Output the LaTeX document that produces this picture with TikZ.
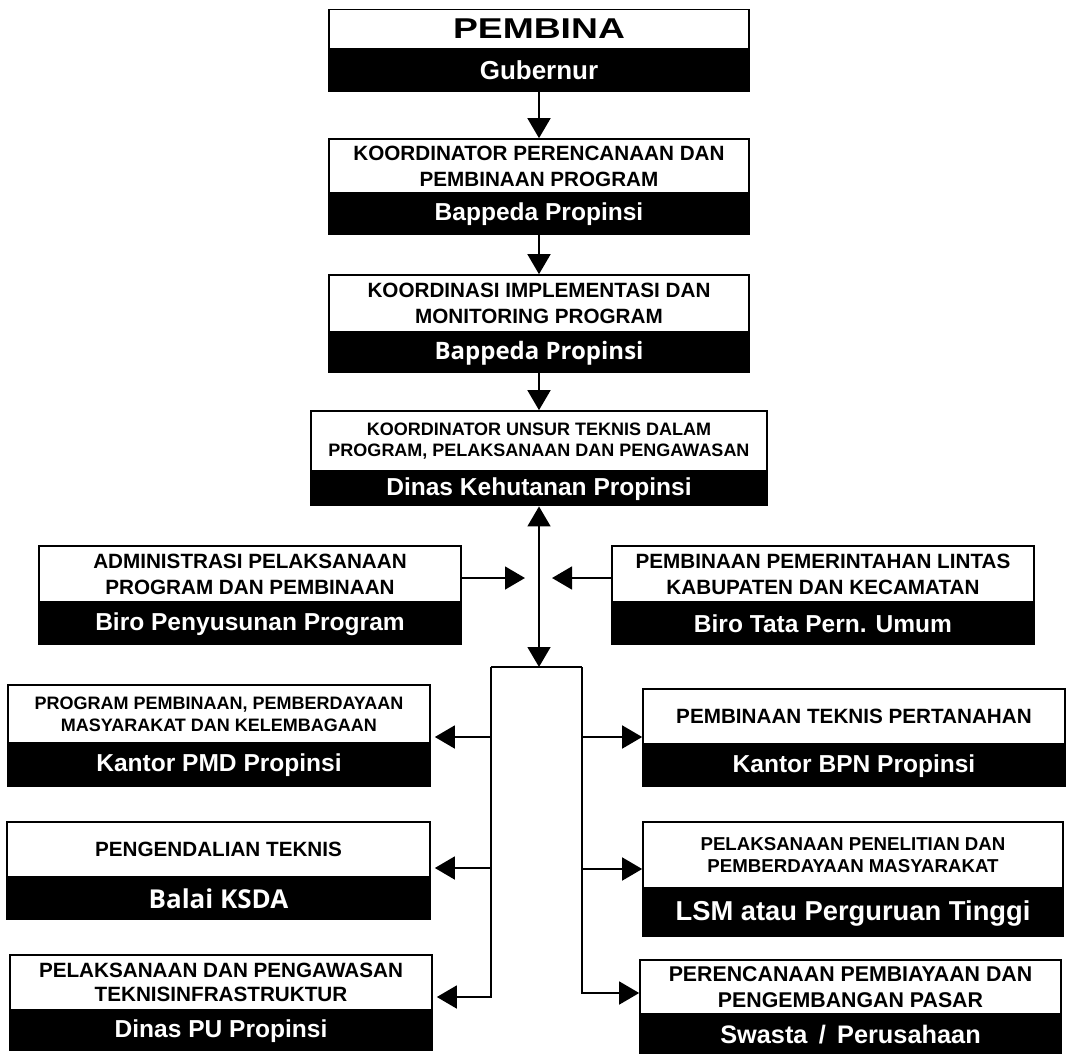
\documentclass[tikz,border=0pt]{standalone}
\usepackage{fontspec}
\setmainfont{Liberation Sans}
\newfontfamily\widefont[FakeStretch=1.3]{Liberation Sans}
\newfontfamily\opensans{Open Sans}
\usetikzlibrary{positioning,arrows.meta}

\begin{document}
\begin{tikzpicture}[x=0.75pt,y=-0.75pt,
    >={Triangle[length=15pt,width=17pt]},
    hdr/.style={draw,line width=1.2pt,fill=white,align=center,inner sep=0pt,
      font=\bfseries\fontsize{15.5}{19.5}\selectfont},
    sub/.style={draw,line width=1.2pt,fill=black,text=white,inner sep=0pt,
      font=\bfseries\fontsize{18.4}{22}\selectfont},
    link/.style={line width=2pt}]
    \useasboundingbox (0,0) rectangle (1067,1053);
    % Main column
    \node[hdr,minimum width=315pt,minimum height=29.25pt,
      font=\widefont\bfseries\fontsize{21.5}{24}\selectfont] (pembina) at (539,29) {PEMBINA};
    \node[sub,minimum width=315pt,minimum height=30.75pt,below=0pt of pembina,
      font=\bfseries\fontsize{19.5}{22}\selectfont] (gubernur) {Gubernur};
    \node[hdr,minimum width=315pt,minimum height=40.5pt] (perencanaan) at (539,166)
      {KOORDINATOR PERENCANAAN DAN\\PEMBINAAN PROGRAM};
    \node[sub,minimum width=315pt,minimum height=30pt,below=0pt of perencanaan] (bappedaA) {Bappeda Propinsi};
    \node[hdr,minimum width=315pt,minimum height=42.75pt] (implementasi) at (539,303.5)
      {KOORDINASI IMPLEMENTASI DAN\\MONITORING PROGRAM};
    \node[sub,minimum width=315pt,minimum height=29.25pt,below=0pt of implementasi,
      font=\opensans\bfseries\fontsize{18}{22}\selectfont] (bappedaB) {Bappeda Propinsi};
    \node[hdr,minimum width=342pt,minimum height=45pt,
      font=\bfseries\fontsize{13.5}{15.75}\selectfont] (teknis) at (539,441)
      {KOORDINATOR UNSUR TEKNIS DALAM\\PROGRAM, PELAKSANAAN DAN PENGAWASAN};
    \node[sub,minimum width=342pt,minimum height=24.75pt,below=0pt of teknis] (dishut) {Dinas Kehutanan Propinsi};
    % Side units
    \node[hdr,minimum width=316.5pt,minimum height=42pt] (admin) at (250,574)
      {ADMINISTRASI PELAKSANAAN\\PROGRAM DAN PEMBINAAN};
    \node[sub,minimum width=316.5pt,minimum height=30.75pt,below=0pt of admin] (biroprog) {Biro Penyusunan Program};
    \node[hdr,minimum width=316.5pt,minimum height=42pt] (lintas) at (823,574)
      {PEMBINAAN PEMERINTAHAN LINTAS\\KABUPATEN DAN KECAMATAN};
    \node[sub,minimum width=316.5pt,minimum height=30.75pt,below=0pt of lintas] (birotata) {Biro Tata Pern. Umum};
    % Left branch
    \node[hdr,minimum width=316.5pt,minimum height=43.5pt,
      font=\bfseries\fontsize{13.5}{16.5}\selectfont] (pmdtop) at (219,714)
      {PROGRAM PEMBINAAN, PEMBERDAYAAN\\MASYARAKAT DAN KELEMBAGAAN};
    \node[sub,minimum width=316.5pt,minimum height=31.5pt,below=0pt of pmdtop] (pmd) {Kantor PMD Propinsi};
    \node[hdr,minimum width=317.25pt,minimum height=41.25pt] (ksdatop) at (218.5,849.5)
      {PENGENDALIAN TEKNIS};
    \node[sub,minimum width=317.25pt,minimum height=30.75pt,below=0pt of ksdatop,
      font=\opensans\bfseries\fontsize{19.5}{22}\selectfont] (ksda) {Balai KSDA};
    \node[hdr,minimum width=316.5pt,minimum height=41.25pt,
      font=\bfseries\fontsize{15.5}{18}\selectfont] (putop) at (221,982.5)
      {PELAKSANAAN DAN PENGAWASAN\\TEKNISINFRASTRUKTUR};
    \node[sub,minimum width=316.5pt,minimum height=29.25pt,below=0pt of putop] (pu) {Dinas PU Propinsi};
    % Right branch
    \node[hdr,minimum width=316.5pt,minimum height=41.25pt] (bpntop) at (854,716.5)
      {PEMBINAAN TEKNIS PERTANAHAN};
    \node[sub,minimum width=316.5pt,minimum height=30.75pt,below=0pt of bpntop] (bpn) {Kantor BPN Propinsi};
    \node[hdr,minimum width=315pt,minimum height=49.5pt,
      font=\bfseries\fontsize{14}{16.5}\selectfont] (lsmtop) at (853,855)
      {PELAKSANAAN PENELITIAN DAN\\PEMBERDAYAAN MASYARAKAT};
    \node[sub,minimum width=315pt,minimum height=35.25pt,below=0pt of lsmtop,
      font=\bfseries\fontsize{20.5}{24}\selectfont] (lsm) {LSM atau Perguruan Tinggi};
    \node[hdr,minimum width=315.75pt,minimum height=40.5pt,
      font=\bfseries\fontsize{16}{19.5}\selectfont] (swastatop) at (850.5,987)
      {PERENCANAAN PEMBIAYAAN DAN\\PENGEMBANGAN PASAR};
    \node[sub,minimum width=315.75pt,minimum height=28.5pt,below=0pt of swastatop,
      font=\bfseries\fontsize{19}{22}\selectfont] (swasta) {Swasta \,/\, Perusahaan};
    % Junction points
    \coordinate (hub) at (539,667);
    \coordinate (hubL) at (491,667);
    \coordinate (hubR) at (582,667);
    \coordinate (inL) at (525,578);
    \coordinate (inR) at (552,578);
    \coordinate (l1) at (491,737);
    \coordinate (l2) at (491,868);
    \coordinate (l3) at (491,997);
    \coordinate (r1) at (582,737);
    \coordinate (r2) at (582,869);
    \coordinate (r3) at (582,993);
    % Chain of command
    \foreach \a/\b in {gubernur/perencanaan,bappedaA/implementasi,bappedaB/teknis} {
      \draw[link,->] (\a) -- (\b);
    }
    \draw[link,<->] (dishut) -- (hub);
    \draw[link,->] (admin.east |- inL) -- (inL);
    \draw[link,->] (lintas.west |- inR) -- (inR);
    % Bracket
    \draw[link] (hubL) -- (hubR);
    \draw[link,->,shorten >=3pt] (hubL) -- (l3) -- (l3 -| putop.east);
    \draw[link,->] (hubR) -- (r3) -- (r3 -| swastatop.west);
    \foreach \c/\n in {l1/pmdtop,l2/ksdatop} {
      \draw[link,->,shorten >=3pt] (\c) -- (\c -| \n.east);
    }
    \foreach \c/\n in {r1/bpntop,r2/lsmtop} {
      \draw[link,->] (\c) -- (\c -| \n.west);
    }
\end{tikzpicture}
\end{document}
